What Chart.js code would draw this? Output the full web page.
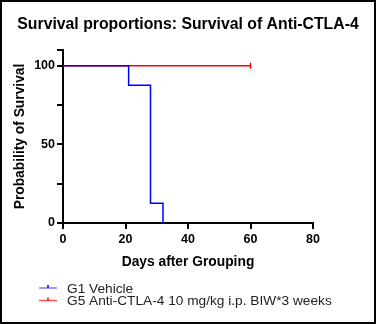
<!DOCTYPE html>
<html>
<head>
<meta charset="utf-8">
<script src="https://cdn.jsdelivr.net/npm/chart.js@4/dist/chart.umd.min.js"></script>
<style>
  html, body { margin: 0; padding: 0; background: #fff; }
</style>
</head>
<body>
<canvas id="chart" width="376" height="324"></canvas>
<script>
const seriesLabels = ["G1 Vehicle", "G5 Anti-CTLA-4 10 mg/kg i.p. BIW*3 weeks"];
const seriesColors = ["#0000ff", "#ff0000"];
const legendColors = ["#7f7fff", "#ff5050"];

// Kaplan-Meier steps: day of each event and survival (%) after it
const vehicleDays = [0, 21, 28, 32];
const vehicleSurvival = [100, 87.5, 12.5, 0];
const ctlaDays = [0, 60];
const ctlaSurvival = [100, 100];

const xTicks = [0, 20, 40, 60, 80];
const yTicks = [0, 25, 50, 75, 100, 110];
const yLabels = [0, 50, 100];

const FONT = "'Liberation Sans', Arial, sans-serif";

const toPoints = (xs, ys) => xs.map((x, i) => ({ x: x, y: ys[i] }));

// censored subjects get a small vertical tick at the last point
const censorRadius = (ctx) =>
  ctx.dataset.censorLast && ctx.dataIndex === ctx.dataset.data.length - 1 ? 3 : 0;

const frame = {
  id: "frame",
  // centre the title across the whole canvas, not just the padded box
  afterLayout(chart) {
    const t = chart.titleBlock;
    t.left = 0;
    t.right = chart.width;
    t.width = chart.width;
  },
  afterDraw(chart) {
    const ctx = chart.ctx;
    ctx.save();
    ctx.strokeStyle = "#000";
    ctx.lineWidth = 2;
    ctx.strokeRect(1, 1, chart.width - 2, chart.height - 2);
    ctx.restore();
  },
};

// legend: line sample with a tick in the middle, text to the right
const stepLegend = {
  id: "stepLegend",
  afterDraw(chart) {
    const ctx = chart.ctx;
    ctx.save();
    ctx.font = "13.7px " + FONT;
    ctx.textBaseline = "middle";
    chart.data.datasets.forEach((ds, i) => {
      const y = 288 + i * 12.5;
      ctx.strokeStyle = legendColors[i];
      ctx.lineWidth = 1.5;
      ctx.beginPath();
      ctx.moveTo(39, y);
      ctx.lineTo(57, y);
      ctx.stroke();
      ctx.strokeStyle = ds.borderColor;
      ctx.beginPath();
      ctx.moveTo(48, y - 3);
      ctx.lineTo(48, y);
      ctx.stroke();
      ctx.fillStyle = "#222";
      ctx.fillText(ds.label, 67, y + 1);
    });
    ctx.restore();
  },
};

new Chart(document.getElementById("chart"), {
  type: "scatter",
  data: {
    datasets: [
      {
        label: seriesLabels[0],
        data: toPoints(vehicleDays, vehicleSurvival),
        borderColor: seriesColors[0],
        backgroundColor: seriesColors[0],
        censorLast: false,
      },
      {
        label: seriesLabels[1],
        data: toPoints(ctlaDays, ctlaSurvival),
        borderColor: seriesColors[1],
        backgroundColor: seriesColors[1],
        censorLast: true,
      },
    ],
  },
  options: {
    responsive: false,
    animation: false,
    layout: { padding: { left: 0, right: 63, top: 0, bottom: 51 } },
    elements: {
      line: { borderWidth: 1.5, stepped: "before", tension: 0 },
      point: { pointStyle: "line", rotation: 90, radius: censorRadius, borderWidth: 1.5 },
    },
    datasets: { scatter: { showLine: true } },
    plugins: {
      legend: { display: false },
      tooltip: { enabled: false },
      title: {
        display: true,
        text: "Survival proportions: Survival of Anti-CTLA-4",
        color: "#000",
        font: { family: FONT, size: 15.8, weight: "bold" },
        padding: { top: 15.5, bottom: 15.5 },
      },
    },
    scales: {
      x: {
        type: "linear",
        min: 0,
        max: 80,
        afterBuildTicks: (scale) => { scale.ticks = xTicks.map((v) => ({ value: v })); },
        afterFit: (scale) => { scale.height = 50; },
        border: { color: "#000", width: 2 },
        grid: { drawOnChartArea: false, tickLength: 6, color: "#000", lineWidth: 2 },
        ticks: { color: "#000", padding: 3, maxRotation: 0, font: { family: FONT, size: 12.5, weight: "bold" } },
        title: {
          display: true,
          text: "Days after Grouping",
          color: "#000",
          font: { family: FONT, size: 13.8, weight: "bold" },
          padding: { top: 0, bottom: 3 },
        },
      },
      y: {
        type: "linear",
        min: 0,
        max: 110,
        afterBuildTicks: (scale) => { scale.ticks = yTicks.map((v) => ({ value: v })); },
        afterFit: (scale) => { scale.width = 63; },
        border: { color: "#000", width: 2 },
        grid: { drawOnChartArea: false, tickLength: 6, color: "#000", lineWidth: 2 },
        ticks: {
          color: "#000",
          padding: 2,
          font: { family: FONT, size: 12.5, weight: "bold" },
          callback: (v) => (yLabels.includes(v) ? String(v) : ""),
        },
        title: {
          display: true,
          text: "Probability of Survival",
          color: "#000",
          font: { family: FONT, size: 13.8, weight: "bold" },
          padding: { top: 12, bottom: 0 },
        },
      },
    },
  },
  plugins: [frame, stepLegend],
});
</script>
</body>
</html>
